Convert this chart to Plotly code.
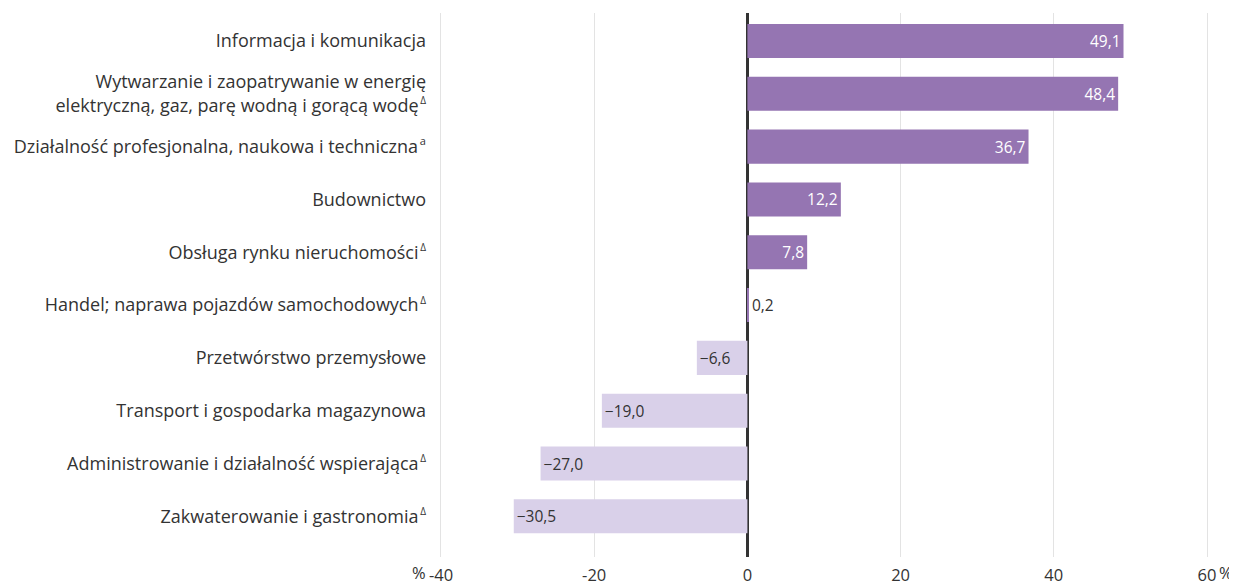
import plotly.graph_objects as go

SUP_D = "<sup><span style='font-size:10px'>\u2009Δ</span></sup>"
SUP_A = "<sup><span style='font-size:11px'>\u2009a</span></sup>"

categories = [
    "Informacja i komunikacja",
    "Wytwarzanie i zaopatrywanie w energię<br>elektryczną, gaz, parę wodną i gorącą wodę" + SUP_D,
    "Działalność profesjonalna, naukowa i techniczna" + SUP_A,
    "Budownictwo",
    "Obsługa rynku nieruchomości" + SUP_D,
    "Handel; naprawa pojazdów samochodowych" + SUP_D,
    "Przetwórstwo przemysłowe",
    "Transport i gospodarka magazynowa",
    "Administrowanie i działalność wspierająca" + SUP_D,
    "Zakwaterowanie i gastronomia" + SUP_D,
]
values = [49.1, 48.4, 36.7, 12.2, 7.8, 0.2, -6.6, -19.0, -27.0, -30.5]

tick_vals = [-40, -20, 0, 20, 40, 60]
tick_text = ["-40", "-20", "0", "20", "40", "60"]
unit = "%"

POS = "#9575b2"
NEG = "#d9d0e9"
DARK = "#333333"

labels = [f"{abs(v):.1f}".replace(".", ",") if v >= 0 else "\u2212" + f"{abs(v):.1f}".replace(".", ",") for v in values]
colors = [POS if v >= 0 else NEG for v in values]
positions = ["outside" if abs(v) < 1 else "inside" for v in values]
txtcolors = ["white" if v >= 1 else DARK for v in values]

fig = go.Figure(go.Bar(
    x=values,
    y=list(range(len(categories))),
    orientation="h",
    marker=dict(color=colors, line=dict(width=0)),
    width=0.645,
    text=labels,
    textposition=positions,
    insidetextanchor="end",
    textfont=dict(color=txtcolors, size=15.5, family="Open Sans"),
    outsidetextfont=dict(color=DARK, size=15.5, family="Open Sans"),
    cliponaxis=False,
    hoverinfo="skip",
))

fig.update_layout(
    width=1229, height=576,
    margin=dict(l=431, r=28, t=5, b=27),
    paper_bgcolor="white", plot_bgcolor="white",
    showlegend=False,
    font=dict(family="Open Sans", size=15, color=DARK),
    annotations=[
        dict(x=tick_vals[0], xref="x", y=0, yref="paper", text=unit,
             showarrow=False, xanchor="right", yanchor="top", xshift=-14, yshift=-3,
             borderpad=0, font=dict(size=16.5, color=DARK)),
        dict(x=tick_vals[-1], xref="x", y=0, yref="paper", text=unit,
             showarrow=False, xanchor="left", yanchor="top", xshift=11, yshift=-3,
             borderpad=0, font=dict(size=16.5, color=DARK)),
    ],
)
fig.update_xaxes(
    range=[-40.26, 60.26],
    tickvals=tick_vals, ticktext=tick_text,
    showgrid=True, gridcolor="#e3e3e3", gridwidth=1,
    zeroline=True, zerolinecolor="#333333", zerolinewidth=2.5,
    showline=False, ticks="", ticklabelstandoff=6,
    tickfont=dict(size=16.5, color=DARK),
    automargin=False,
)
fig.update_yaxes(
    tickvals=list(range(len(categories))), ticktext=categories,
    range=[9.77, -0.53],
    showgrid=False, zeroline=False, showline=False,
    ticks="", ticklabelstandoff=12,
    tickfont=dict(size=18, color=DARK),
    automargin=False,
)

fig.write_html("out.html")
